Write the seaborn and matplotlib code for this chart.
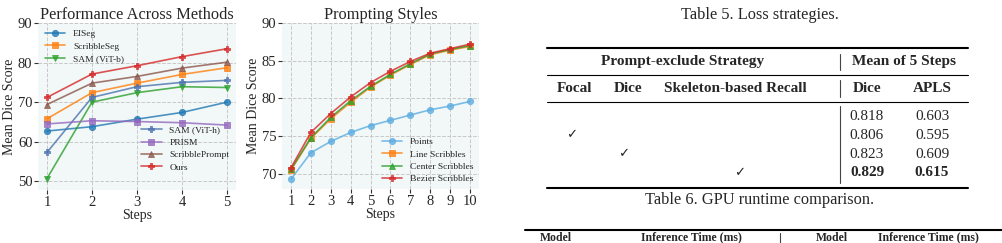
import matplotlib
matplotlib.use("Agg")
import matplotlib.pyplot as plt
from matplotlib.lines import Line2D
import seaborn as sns

# ---- left chart: performance across methods ----
steps_a = [1, 2, 3, 4, 5]
eiseg = [62.7, 63.8, 65.7, 67.4, 70.0]
scribbleseg = [65.8, 72.4, 74.8, 77.0, 78.7]
sam_vitb = [50.7, 70.0, 72.4, 73.9, 73.7]
sam_vith = [57.3, 71.2, 73.9, 75.0, 75.5]
prism = [64.5, 65.3, 65.1, 64.8, 64.2]
scribbleprompt = [69.4, 74.8, 76.5, 78.6, 80.1]
ours = [71.2, 77.1, 79.2, 81.5, 83.5]

# ---- right chart: prompting styles ----
steps_b = [1, 2, 3, 4, 5, 6, 7, 8, 9, 10]
points = [69.3, 72.8, 74.3, 75.5, 76.4, 77.1, 77.8, 78.5, 79.0, 79.6]
line_scribbles = [70.5, 74.7, 77.3, 79.5, 81.5, 83.1, 84.5, 85.8, 86.4, 86.9]
center_scribbles = [70.6, 74.8, 77.5, 79.7, 81.6, 83.2, 84.6, 85.9, 86.5, 87.0]
bezier_scribbles = [70.8, 75.5, 78.0, 80.2, 82.1, 83.6, 84.9, 86.0, 86.6, 87.2]

# ---- table 5 ----
t5_head1 = ["Prompt-exclude Strategy", "Mean of 5 Steps"]
t5_head2 = ["Focal", "Dice", "Skeleton-based Recall", "Dice", "APLS"]
t5_checks = [None, 0, 1, 2]
t5_dice = ["0.818", "0.806", "0.823", "0.829"]
t5_apls = ["0.603", "0.595", "0.609", "0.615"]
t6_head = ["Model", "Inference Time (ms)", "Model", "Inference Time (ms)"]

sns.set_theme(style="whitegrid")
plt.rcParams["font.family"] = ["Liberation Serif", "DejaVu Sans"]
plt.rcParams["mathtext.fontset"] = "stix"

W, H = 1002, 243
fig = plt.figure(figsize=(W / 100, H / 100), dpi=100)
fig.patch.set_facecolor("white")


def px_axes(x0, y0, x1, y1):
    return fig.add_axes([x0 / W, 1 - y1 / H, (x1 - x0) / W, (y1 - y0) / H])


def style(ax, title):
    ax.set_facecolor("#f1f8f7")
    ax.grid(True, color="#c8c8c8", linestyle="--", linewidth=0.7)
    for s in ax.spines.values():
        s.set_visible(False)
    ax.tick_params(axis="both", which="both", length=3, width=0.8, color="#333333",
                   labelsize=10.5, pad=1, left=True, bottom=True)
    ax.set_title(title, fontsize=11.8, pad=3)
    ax.set_xlabel("Steps", fontsize=10, labelpad=0)
    ax.set_ylabel("Mean Dice Score", fontsize=10, labelpad=1)


kw = dict(linewidth=1.2, markersize=4.5, alpha=0.8, markeredgewidth=0.6)

ax1 = px_axes(38, 23, 236, 190)
series_a = [
    ("EISeg", eiseg, "#1f77b4", "o"),
    ("ScribbleSeg", scribbleseg, "#ff7f0e", "s"),
    ("SAM (ViT-b)", sam_vitb, "#2ca02c", "v"),
    ("SAM (ViT-h)", sam_vith, "#4c72b0", "P"),
    ("PRISM", prism, "#9467bd", "s"),
    ("ScribblePrompt", scribbleprompt, "#8c564b", "^"),
    ("Ours", ours, "#d62728", "P"),
]
for name, vals, col, mk in series_a:
    sns.lineplot(x=steps_a, y=vals, ax=ax1, color=col, marker=mk, label=name,
                 markeredgecolor=col, **kw)
ax1.set_ylim(47.8, 90)
ax1.set_yticks([50, 60, 70, 80, 90])
ax1.set_xticks(steps_a)
style(ax1, "Performance Across Methods")
h, l = ax1.get_legend_handles_labels()
leg1 = ax1.legend(h[:3], l[:3], loc="upper left", frameon=False, fontsize=6.8,
                  handlelength=2.2, borderaxespad=0.3, labelspacing=0.4)
ax1.add_artist(leg1)
ax1.legend(h[3:], l[3:], loc="lower right", frameon=False, fontsize=6.8,
           handlelength=2.2, borderaxespad=0.3, labelspacing=0.4,
           bbox_to_anchor=(1.0, 0.07))

ax2 = px_axes(282, 23, 479, 189)
series_b = [
    ("Points", points, "#5dade2", "o"),
    ("Line Scribbles", line_scribbles, "#ff7f0e", "s"),
    ("Center Scribbles", center_scribbles, "#2ca02c", "^"),
    ("Bezier Scribbles", bezier_scribbles, "#d62728", "P"),
]
for name, vals, col, mk in series_b:
    sns.lineplot(x=steps_b, y=vals, ax=ax2, color=col, marker=mk, label=name,
                 markeredgecolor=col, **kw)
ax2.set_ylim(68, 90)
ax2.set_yticks([70, 75, 80, 85, 90])
ax2.set_xticks(steps_b)
style(ax2, "Prompting Styles")
ax2.legend(loc="lower right", frameon=False, fontsize=6.8, handlelength=2.2,
           borderaxespad=0.2, labelspacing=0.4, bbox_to_anchor=(1.0, 0.0))


# ---- tables as figure text ----
def ftext(x, y, s, size=11, **k):
    fig.text(x / W, 1 - y / H, s, ha="center", va="center", fontsize=size, **k)


def hrule(y, x0, x1, lw):
    fig.add_artist(Line2D([x0 / W, x1 / W], [1 - y / H, 1 - y / H], color="black",
                          linewidth=lw, transform=fig.transFigure))


def vrule(x, y0, y1):
    fig.add_artist(Line2D([x / W, x / W], [1 - y0 / H, 1 - y1 / H], color="#444444",
                          linewidth=0.8, transform=fig.transFigure))


ftext(760, 15, "Table 5. Loss strategies.", size=11.8)
hrule(47.5, 547, 968, 1.5)
ftext(683, 62, t5_head1[0], fontweight="bold")
ftext(904, 62, t5_head1[1], fontweight="bold")
hrule(75, 547, 968, 0.8)
head_x = [575, 628, 735, 867, 932]
for x, s in zip(head_x, t5_head2):
    ftext(x, 88.5, s, fontweight="bold")
hrule(102, 547, 968, 0.8)
row_y = [116, 135, 154, 173]
check_x = [572, 624, 740]
for i, y in enumerate(row_y):
    bold = "bold" if i == len(row_y) - 1 else "normal"
    ftext(867, y, t5_dice[i], fontweight=bold)
    ftext(932, y, t5_apls[i], fontweight=bold)
    if t5_checks[i] is not None:
        ftext(check_x[t5_checks[i]], y, "\u2713", size=9.5)
hrule(187.5, 547, 968, 1.5)
vrule(840, 54, 70)
vrule(840, 80, 97)
vrule(840, 106, 183)

ftext(760, 200, "Table 6. GPU runtime comparison.", size=11.8)
hrule(230, 525, 1002, 1.5)
for x, s in zip([556, 691, 832, 928], t6_head):
    ftext(x, 237.5, s, size=8.5, fontweight="bold")
vrule(780, 233, 243)

fig.savefig("out.png", dpi=100)
